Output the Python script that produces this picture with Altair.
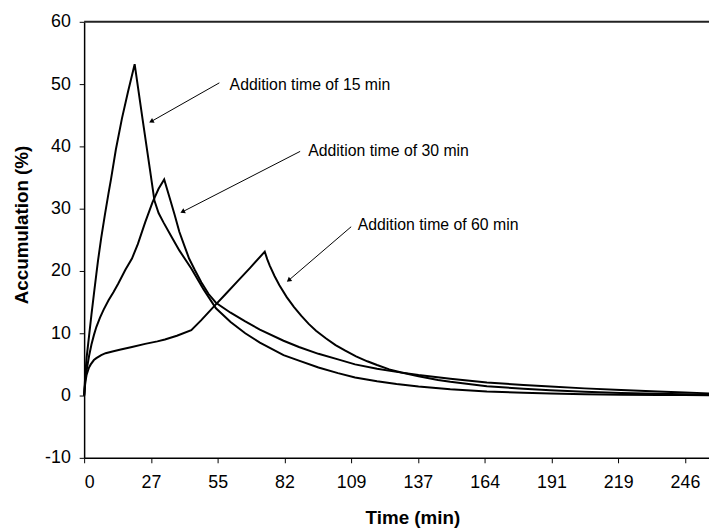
import altair as alt
import pandas as pd

# ---- data ----
series_names = ["Addition time of 15 min", "Addition time of 30 min", "Addition time of 60 min"]

t_15 = [0, 0.5, 1, 2, 3, 4, 5, 5.7, 7, 8.5, 10, 11, 13, 15.5, 18, 20.7, 24, 27, 28.8, 30.5, 32.5,
        35.8, 39, 43.9, 49, 54, 60, 66, 72, 81.7, 88, 96, 104, 111, 120, 128, 137, 150, 165, 180,
        191, 205, 220, 235, 246, 256]
acc_15 = [0, 3.5, 6, 9.5, 13, 16.3, 19.5, 21.7, 25.3, 29, 32.5, 34.7, 39.5, 44.5, 48.8, 53.2, 44.2,
          36.2, 31.3, 29.3, 27.8, 25.5, 23.3, 20.4, 17.0, 14.0, 11.8, 10.0, 8.5, 6.5, 5.6, 4.5, 3.6,
          2.9, 2.3, 1.85, 1.45, 1.0, 0.65, 0.45, 0.32, 0.22, 0.14, 0.1, 0.07, 0.05]

t_30 = [0, 0.5, 1, 2, 3, 4, 5, 6.5, 8, 10, 12, 14, 16.9, 19.6, 22, 25, 28, 30.5, 32.8, 35, 37.1, 39,
        41.2, 43, 45.3, 48, 51, 54, 60, 66, 72, 81.7, 88, 96, 104, 111, 120, 128, 137, 150, 165,
        180, 191, 205, 220, 235, 246, 256]
acc_30 = [0, 2.5, 4, 6.3, 8.2, 9.7, 11, 12.5, 13.8, 15.3, 16.6, 18, 20.2, 22, 24.3, 27.8, 31, 33.2,
          34.7, 31.8, 29.0, 26.3, 23.9, 22.0, 20.2, 18.2, 16.3, 14.9, 13.3, 11.9, 10.6, 8.8, 7.8,
          6.7, 5.8, 5.0, 4.3, 3.8, 3.3, 2.7, 2.1, 1.7, 1.45, 1.15, 0.9, 0.65, 0.5, 0.35]

t_60 = [0, 0.5, 1, 2, 2.7, 4, 5, 7, 8.8, 12, 15, 19.6, 25, 30, 33.1, 38, 43.9, 48, 53.4, 58, 63, 68,
        74, 75, 76, 78, 80, 83, 86, 89, 92, 95, 99, 103, 107, 111.4, 116, 120, 125, 130, 137, 145,
        150, 165, 180, 191, 205, 220, 235, 246, 256]
acc_60 = [0, 2.2, 3.3, 4.5, 5.0, 5.7, 6.0, 6.5, 6.8, 7.1, 7.4, 7.8, 8.3, 8.7, 9.0, 9.6, 10.5, 12.1,
          14.4, 16.3, 18.4, 20.5, 23.1, 21.9, 20.9, 19.2, 17.7, 15.8, 14.2, 12.8, 11.5, 10.4, 9.2,
          8.1, 7.2, 6.3, 5.5, 4.9, 4.2, 3.7, 3.1, 2.5, 2.2, 1.5, 1.1, 0.85, 0.6, 0.42, 0.3, 0.22,
          0.15]

x_tick_values = [0, 27.35, 54.7, 82.05, 109.4, 136.75, 164.1, 191.45, 218.8, 246.15]
y_tick_values = [-10, 0, 10, 20, 30, 40, 50, 60]

# annotation anchors (data units)
ann_text_t = [59.6, 91.8, 112.1]
ann_text_v = [49.8, 39.2, 27.3]
arrow_from_t = [55.4, 88.5, 109.4]
arrow_from_v = [50.2, 39.2, 27.1]
arrow_to_t = [27.5, 40.3, 83.8]
arrow_to_v = [44.0, 29.5, 18.5]
arrow_angle = [242, 243, 231]

rows = []
for name, ts, vs in zip(series_names, [t_15, t_30, t_60], [acc_15, acc_30, acc_60]):
    for t, v in zip(ts, vs):
        rows.append({"series": name, "time": t, "acc": v})
df = pd.DataFrame(rows)

ann = pd.DataFrame({
    "label": series_names,
    "tx": ann_text_t, "ty": ann_text_v,
    "x0": arrow_from_t, "y0": arrow_from_v,
    "x1": arrow_to_t, "y1": arrow_to_v,
    "angle": arrow_angle,
})

FONT = "Liberation Sans"
x_scale = alt.Scale(domain=[0, 256], nice=False, zero=False)
y_scale = alt.Scale(domain=[-10, 60], nice=False, zero=False)

x_axis = alt.Axis(
    values=x_tick_values, labelExpr="'' + round(datum.value)", title="Time (min)",
    grid=False, tickSize=5, tickColor="black", domainColor="black", domainWidth=1.5,
    labelPadding=11, labelFontSize=18, labelColor="black", labelFont=FONT,
    titleFont=FONT, titleFontSize=19, titleFontWeight="bold", titleColor="black",
    titleX=332, titleY=66, titleBaseline="alphabetic", titleAnchor="middle",
)
y_axis = alt.Axis(
    values=y_tick_values, labelExpr="'' + datum.value", title="Accumulation (%)",
    grid=False, tickSize=5, tickColor="black", domainColor="black", domainWidth=1.5,
    labelPadding=9, labelFontSize=18, labelColor="black", labelFont=FONT,
    titleFont=FONT, titleFontSize=19, titleFontWeight="bold", titleColor="black",
    titleX=-63, titleY=205, titleBaseline="middle", titleAngle=-90,
)

lines = alt.Chart(df).mark_line(color="black", strokeWidth=2).encode(
    x=alt.X("time:Q", scale=x_scale, axis=x_axis),
    y=alt.Y("acc:Q", scale=y_scale, axis=y_axis),
    detail="series:N",
    order="time:Q",
)

top_border = alt.Chart(pd.DataFrame({"v": [60]})).mark_rule(color="#222", strokeWidth=2).encode(
    y=alt.Y("v:Q", scale=y_scale)
)

arrows = alt.Chart(ann).mark_rule(color="black", strokeWidth=1).encode(
    x=alt.X("x0:Q", scale=x_scale), y=alt.Y("y0:Q", scale=y_scale),
    x2="x1:Q", y2="y1:Q",
)

heads = alt.Chart(ann).mark_point(shape="triangle-up", filled=True, color="black",
                                  opacity=1, size=30).encode(
    x=alt.X("x1:Q", scale=x_scale), y=alt.Y("y1:Q", scale=y_scale),
    angle=alt.Angle("angle:Q", scale=None),
)

labels = alt.Chart(ann).mark_text(align="left", baseline="middle", fontSize=16, font=FONT,
                                  color="black").encode(
    x=alt.X("tx:Q", scale=x_scale), y=alt.Y("ty:Q", scale=y_scale), text="label:N"
)

chart = alt.layer(lines, top_border, arrows, heads, labels).properties(
    width=632, height=441,
    autosize=alt.AutoSizeParams(type="none"),
    padding={"left": 77, "top": 11, "right": 0, "bottom": 69},
    background="white",
).configure_view(stroke=None)

chart.save("out.html", embed_options={"renderer": "svg", "actions": False})
